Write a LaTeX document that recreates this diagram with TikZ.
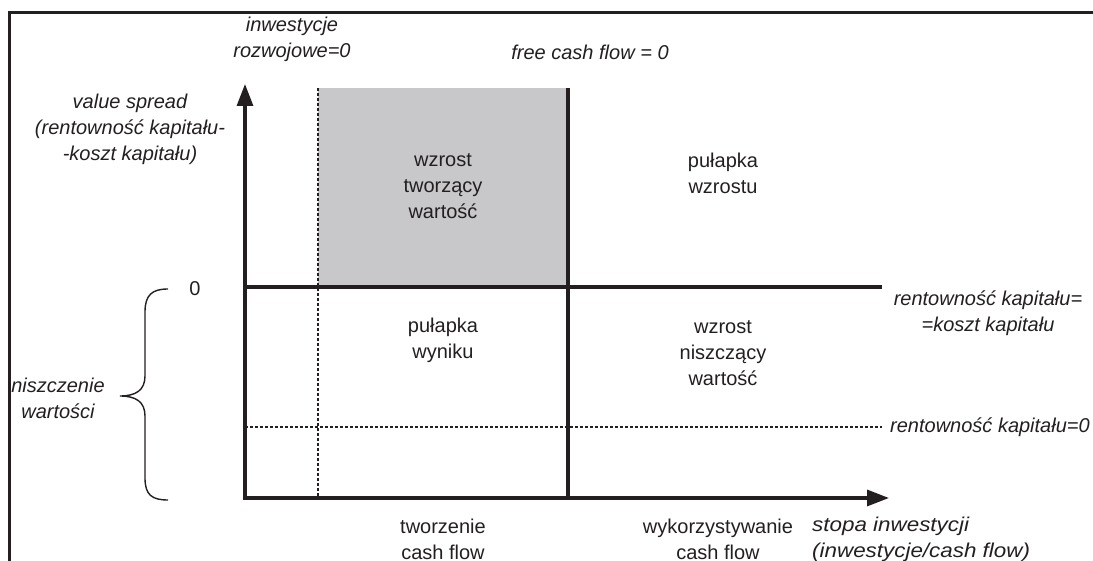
\documentclass[tikz,border=0pt]{standalone}
\usepackage{fontspec}
\setmainfont{Liberation Sans}
\usetikzlibrary{arrows.meta}
\definecolor{ink}{HTML}{231F20}
\definecolor{cellgray}{HTML}{C8C8CA}
\begin{document}
\begin{tikzpicture}[x=1pt,y=-1pt,
  every node/.style={text=ink,font=\fontsize{20}{26}\selectfont,inner sep=0pt},
  lbl/.style={align=center},
  ital/.style={align=center,font=\fontsize{20}{26}\selectfont\itshape},
  axis/.style={draw=ink,line width=3.2pt,-{Triangle[length=22pt,width=16pt]}},
  solidline/.style={draw=ink,line width=3.2pt},
  dotline/.style={draw=ink,line width=2.6pt,dash pattern=on 2.6pt off 2.4pt},
  frameline/.style={draw=ink,line width=3pt},
  bracestroke/.style={draw=ink,line width=1.4pt}]
\useasboundingbox (0,0) rectangle (1093,561);

% key coordinates
\coordinate (O)   at (245,498);
\coordinate (ytip) at (245,84);
\coordinate (xtip) at (889,498);
\coordinate (dTop) at (318,88);
\coordinate (dBot) at (318,498);
\coordinate (sTop) at (568,88);
\coordinate (sBot) at (568,498);
\coordinate (hL)  at (245,287);
\coordinate (hR)  at (882,287);
\coordinate (zL)  at (245,427);
\coordinate (zR)  at (882,427);

% outer frame
\draw[frameline] (9,575) -- (9,13) -- (1100,13);

% shaded quadrant
\fill[cellgray] (dTop) rectangle (568,287);

% grid lines
\draw[dotline] (dTop) -- (dBot);
\draw[solidline] (sTop) -- (sBot);
\draw[solidline] (hL) -- (hR);
\draw[dotline] (zL) -- (zR);

% axes
\draw[axis] ([yshift=-1.6pt]O) -- (ytip);
\draw[axis] ([xshift=-1.6pt]O) -- (xtip);

% brace
\draw[bracestroke] (168,289) .. controls (152,289) and (145,295) .. (145,312)
  -- (145,376) .. controls (145,390) and (136,396) .. (120,396)
  .. controls (136,396) and (145,402) .. (145,416)
  -- (145,478) .. controls (145,495) and (152,500) .. (168,500);

% cell labels
\node[lbl] (c1) at (443,186) {wzrost\\tworzący\\wartość};
\node[lbl] (c2) at (723,173) {pułapka\\wzrostu};
\node[lbl] (c3) at (443,340) {pułapka\\wyniku};
\node[lbl] (c4) at (723,353) {wzrost\\niszczący\\wartość};

% labels under the horizontal axis
\node[lbl] (b1) at (443,539) {tworzenie\\cash flow};
\node[lbl] (b2) at (718,539) {wykorzystywanie\\cash flow};
\node[ital,align=left,anchor=west,xscale=1.12,transform shape] (b3) at (812,539) {stopa inwestycji\\(inwestycje/cash flow)};

% labels on the right
\node[ital] (r1) at (988,313) {rentowność kapitału=\\=koszt kapitału};
\node[ital,anchor=west] (r2) at (890,427) {rentowność kapitału=0};

% labels on the left
\node[ital] (l1) at (130,129) {value spread\\(rentowność kapitału-\\-koszt kapitału)};
\node[lbl] (l0) at (195,289) {0};
\node[ital] (l2) at (58,398) {niszczenie\\wartości};

% labels at the top
\node[ital] (t1) at (292,39) {inwestycje\\rozwojowe=0};
\node[ital] (t2) at (590,52) {free cash flow = 0};
\end{tikzpicture}
\end{document}
